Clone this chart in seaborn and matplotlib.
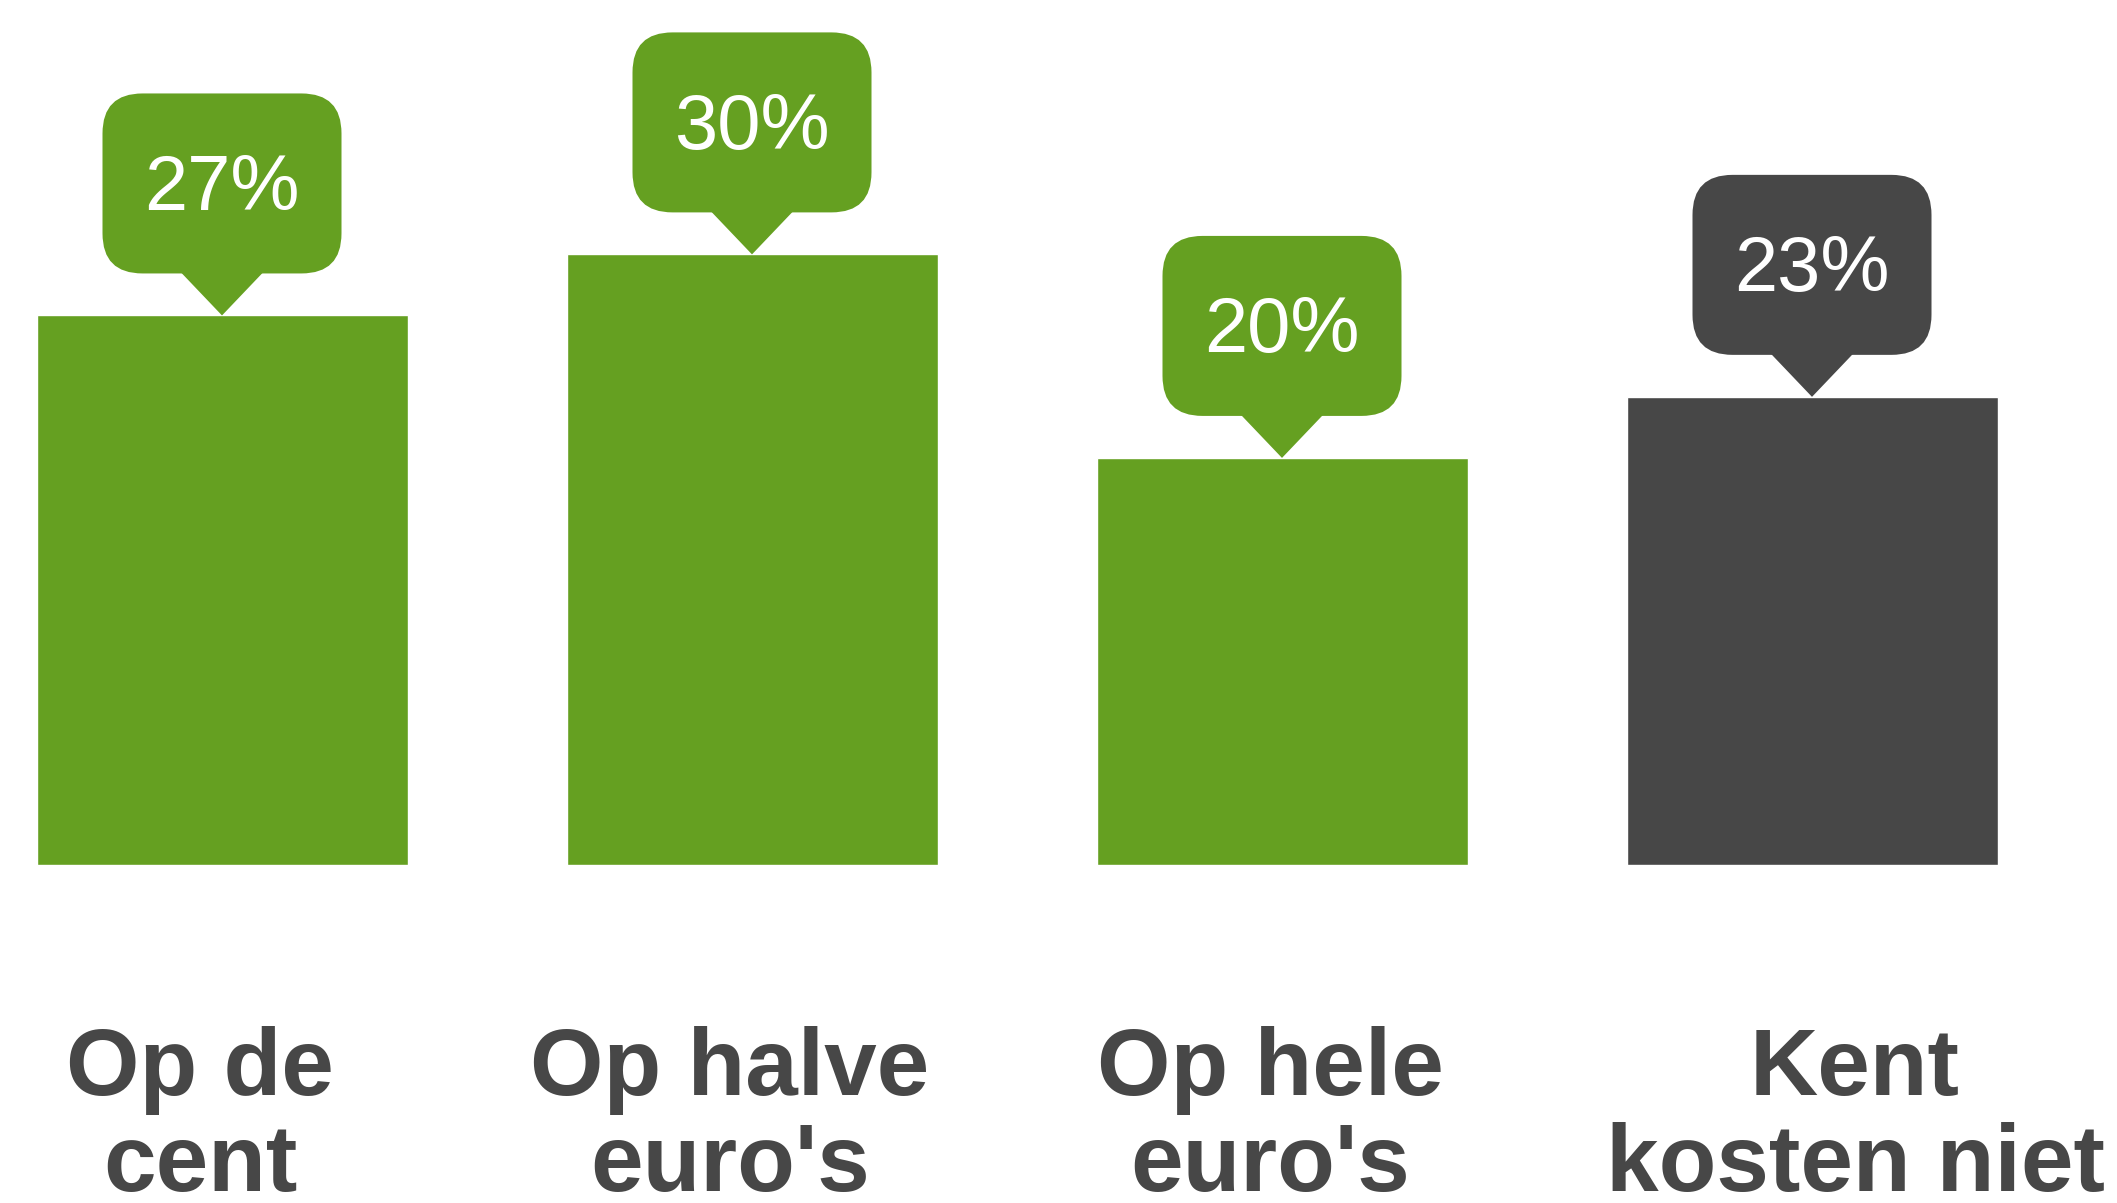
import matplotlib
matplotlib.use("Agg")
import matplotlib.pyplot as plt
import matplotlib.transforms as mtransforms
from matplotlib.patches import FancyBboxPatch, Polygon
import seaborn as sns
import pandas as pd

# data
categories = ["Op de\ncent", "Op halve\neuro's", "Op hele\neuro's", "Kent\nkosten niet"]
values = [27, 30, 20, 23]
labels = ["27%", "30%", "20%", "23%"]
bar_colors = ["#65A021", "#65A021", "#65A021", "#474747"]
label_shift_px = [-22, -22, -12, 43]

df = pd.DataFrame({"cat": categories, "val": values})

sns.set_style("white")
plt.rcParams['font.family'] = ['Liberation Sans', 'DejaVu Sans']

fig = plt.figure(figsize=(21.17, 12.03), dpi=100)
ax = fig.add_axes([10 / 2117, 0.281, 2014 / 2117, 0.719])

sns.barplot(data=df, x="cat", y="val", hue="cat", palette=bar_colors,
            width=0.7, saturation=1, legend=False, ax=ax)

ax.set_xlim(-0.4, 3.4)
ax.set_ylim(0, 42.5)
ax.set_xlabel("")
ax.set_ylabel("")
ax.set_yticks([])
sns.despine(ax=ax, left=True, bottom=True)
ax.tick_params(axis="x", length=0, pad=116)

for lab, dx in zip(ax.get_xticklabels(), label_shift_px):
    lab.set_fontsize(68)
    lab.set_fontweight("bold")
    lab.set_color("#474747")
    lab.set_linespacing(1.1)
    lab.set_transform(lab.get_transform() + mtransforms.Affine2D().translate(dx, 0))

# callout bubbles above each bar (pixel units relative to bar top)
box_w, box_h, tip_h, tip_hw, rad = 239, 180, 42, 41, 40
for i, (v, txt, col) in enumerate(zip(values, labels, bar_colors)):
    tr = mtransforms.Affine2D() + mtransforms.ScaledTranslation(i, v, ax.transData)
    box = FancyBboxPatch((-box_w / 2, tip_h), box_w, box_h,
                         boxstyle=f"round,pad=0,rounding_size={rad}",
                         facecolor=col, edgecolor="none", transform=tr, clip_on=False)
    tip = Polygon([(-tip_hw, tip_h + 1), (tip_hw, tip_h + 1), (0, 0)], closed=True,
                  facecolor=col, edgecolor="none", transform=tr, clip_on=False)
    ax.add_patch(box)
    ax.add_patch(tip)
    ax.text(0, tip_h + box_h / 2 - 6, txt, transform=tr, ha="center", va="center",
            fontsize=56, color="white", clip_on=False)

fig.savefig("out.png", dpi=100)
